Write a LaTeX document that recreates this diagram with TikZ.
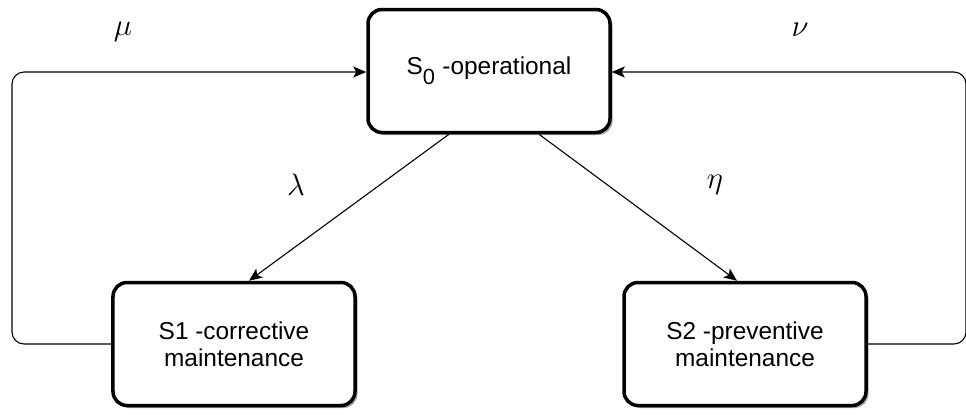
\documentclass[tikz,border=0pt]{standalone}
\usepackage{fontspec}
\setmainfont{Liberation Sans}
\usetikzlibrary{arrows.meta,shadows}
\begin{document}
\begin{tikzpicture}[x=1bp,y=-1bp,
  statebox/.style={draw, line width=3.5bp, rounded corners=14bp, fill=white,
    minimum width=242bp, minimum height=123bp, align=center,
    font=\fontsize{24.5}{27}\selectfont,
    drop shadow={shadow xshift=2.5bp, shadow yshift=-2.5bp, fill=black!35, opacity=1}},
  conn/.style={line width=1.1bp, -{Stealth[length=13bp,width=11bp,inset=3bp]}},
  lbl/.style={font=\fontsize{20}{24}\selectfont}]
\useasboundingbox (0,0) rectangle (966,414);
\node[statebox] (s0) at (489,71) {S\textsubscript{\fontsize{22}{24}\selectfont\raisebox{-0.5ex}{0}} -operational};
\node[statebox] (s1) at (234,344) {S1 -corrective\\maintenance};
\node[statebox] (s2) at (745,344) {S2 -preventive\\maintenance};
\coordinate (lb) at (12,344);
\coordinate (lt) at (12,72);
\coordinate (rb) at (966,344);
\coordinate (rt) at (966,72);
\draw[conn, rounded corners=12bp] (s1.west) -- (lb) -- (lt) -- (s0.west |- lt);
\draw[conn, rounded corners=12bp] (s2.east) -- (rb) -- (rt) -- (s0.east |- rt);
\draw[conn] (s0.south -| 449,0) -- (s1.north -| 249,0);
\draw[conn] (s0.south -| 539,0) -- (s2.north -| 737,0);
\node[lbl] (mu) at (123,32) {\scalebox{1.5}{$\mu$}};
\node[lbl] (nu) at (800,30) {\scalebox{1.5}{$\nu$}};
\node[lbl] (la) at (296,185) {\scalebox{1.5}{$\lambda$}};
\node[lbl] (et) at (715,185) {\scalebox{1.5}{$\eta$}};
\end{tikzpicture}
\end{document}
